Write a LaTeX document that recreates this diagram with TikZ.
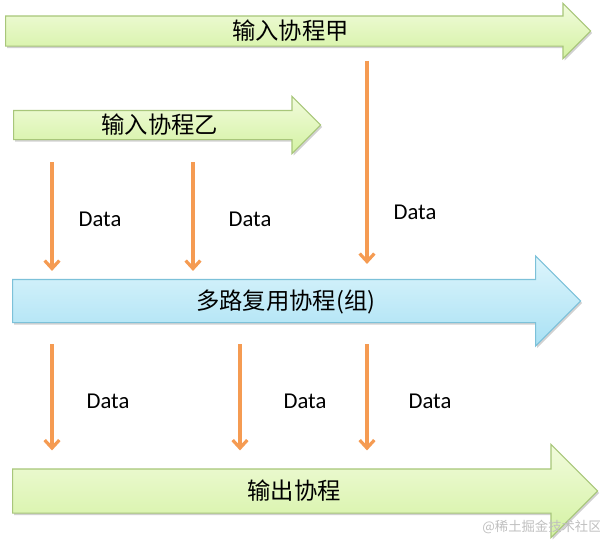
\documentclass[tikz,border=0pt]{standalone}
\usepackage{fontspec}
\setmainfont{Carlito}
\newfontfamily\cjk{Noto Sans CJK SC}
\usetikzlibrary{shapes.arrows,arrows.meta,shadows,calc}

\definecolor{leafTop}{HTML}{F1FBDC}
\definecolor{leafBot}{HTML}{D4F2A2}
\definecolor{leafEdge}{HTML}{A8C67A}
\definecolor{skyTop}{HTML}{DDF5FC}
\definecolor{skyBot}{HTML}{A9E1F4}
\definecolor{skyEdge}{HTML}{7CC1D9}
\definecolor{flow}{HTML}{F59B52}

\tikzset{
  pipe/.style={single arrow, anchor=tail, inner sep=0pt, minimum width=1pt,
    line width=0.8pt, font=\cjk\fontsize{17.5pt}{20pt}\selectfont,
    drop shadow={shadow xshift=1.2pt, shadow yshift=-1.5pt, opacity=.3, fill=black!60}},
  leafpipe/.style={pipe, draw=leafEdge, top color=leafTop, bottom color=leafBot},
  skypipe/.style={pipe, draw=skyEdge, top color=skyTop, bottom color=skyBot},
  flowline/.style={draw=flow, line width=2.4pt, -{Straight Barb[length=6pt,width=11pt,line width=2.4pt]}},
  datalabel/.style={font=\fontsize{17pt}{20pt}\selectfont}
}

\begin{document}
\begin{tikzpicture}[x=0.75pt,y=-0.75pt]
\useasboundingbox (0,0) rectangle (600,547);

% draw the coroutine arrows
\node[leafpipe, minimum height=438.75pt, single arrow head extend=9.4pt,
  text height=17.5pt, text depth=4.25pt] (jia) at (5,31) {输入协程甲};
\node[leafpipe, minimum height=230.25pt, single arrow head extend=10.5pt,
  text height=17.15pt, text depth=3.85pt] (yi) at (13,125) {输入协程乙};
\node[skypipe, minimum height=426pt, single arrow head extend=17.6pt,
  text height=22.4pt, text depth=9.1pt] (mux) at (12,301) {多路复用协程(组)};
\node[leafpipe, minimum height=438.75pt, single arrow head extend=18.4pt,
  text height=22.8pt, text depth=9.45pt] (out) at (12,491) {输出协程};

% draw data flow into the multiplexer
\foreach \x in {52,193}
  \draw[flowline] ($(yi.south -| \x,0)+(0,22)$) -- ($(mux.north -| \x,0)+(0,-8)$);
\draw[flowline] ($(jia.south -| 367,0)+(0,14)$) -- ($(mux.north -| 367,0)+(0,-15)$);

% draw data flow into the output
\foreach \x in {52,240,367}
  \draw[flowline] ($(mux.south -| \x,0)+(0,21)$) -- ($(out.north -| \x,0)+(0,-18)$);

% draw labels
\node[datalabel] (d1) at (100,219) {Data};
\node[datalabel] (d2) at (250,219) {Data};
\node[datalabel] (d3) at (415,212) {Data};
\node[datalabel] (d4) at (108,401) {Data};
\node[datalabel] (d5) at (305,401) {Data};
\node[datalabel] (d6) at (430,401) {Data};

\node[text=black!25, font=\cjk\fontsize{10pt}{12pt}\selectfont] (mark) at (542,527) {@稀土掘金技术社区};
\end{tikzpicture}
\end{document}
